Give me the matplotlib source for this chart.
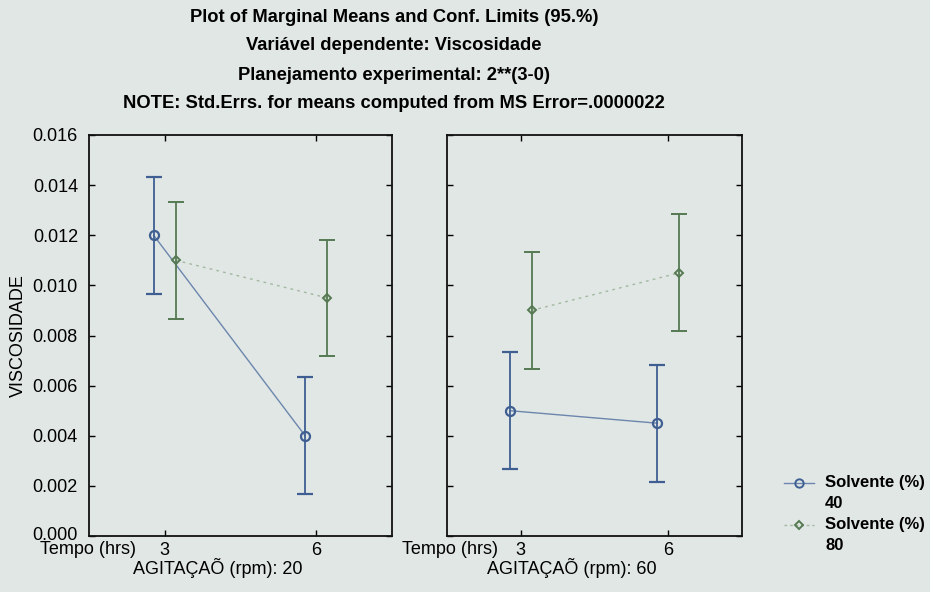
import matplotlib
matplotlib.use("Agg")
import matplotlib.pyplot as plt
import matplotlib.transforms as mtransforms
import numpy as np
from matplotlib.lines import Line2D

# data
TEMPO = [3, 6]
AGITACAO = [20, 60]
SOLVENTE = [40, 80]
# means per agitation level, one list per solvent level
MEANS_40 = [[0.0120, 0.0040], [0.0050, 0.0045]]
MEANS_80 = [[0.0110, 0.0095], [0.0090, 0.0105]]
CI_HALF = 0.00233  # same for every cell (pooled MS error)

TITLE_LINES = [
    "Plot of Marginal Means and Conf. Limits (95.%)",
    "Variável dependente: Viscosidade",
    "Planejamento experimental: 2**(3-0)",
    "NOTE: Std.Errs. for means computed from MS Error=.0000022",
]

BG = "#e1e7e5"
BLUE = "#3f5f92"
BLUE_LINE = "#6c86ad"
GREEN = "#557a52"
GREEN_LINE = "#a3b9a2"
FONT = ["Liberation Sans", "DejaVu Sans"]
OFFSET = 0.22

plt.rcParams["font.family"] = FONT

fig = plt.figure(figsize=(9.3, 5.92), dpi=100, facecolor=BG)
W, H = 930, 592


def px_axes(x0, x1, y_top, y_bot):
    return fig.add_axes([x0 / W, (H - y_bot) / H, (x1 - x0) / W, (y_bot - y_top) / H])


def fy(y):
    return 1 - y / H


axes = [px_axes(89, 392, 135, 536), px_axes(447, 742, 135, 536)]

for i, ax in enumerate(axes):
    ax.set_facecolor(BG)
    x = np.array(TEMPO, dtype=float)
    ax.plot(x + OFFSET, MEANS_80[i], color=GREEN_LINE, lw=1.0,
            linestyle=(0, (2, 3)), zorder=1)
    ax.plot(x - OFFSET, MEANS_40[i], color=BLUE_LINE, lw=1.0, zorder=1)
    ax.errorbar(x - OFFSET, MEANS_40[i], yerr=CI_HALF, fmt="o", color=BLUE,
                mfc="none", mec=BLUE, ms=6.5, mew=1.6, elinewidth=1.3,
                capsize=5.5, capthick=1.3, zorder=3)
    ax.errorbar(x + OFFSET, MEANS_80[i], yerr=CI_HALF, fmt="D", color=GREEN,
                mfc="none", mec=GREEN, ms=4.5, mew=1.4, elinewidth=1.3,
                capsize=5.5, capthick=1.3, zorder=3)

    ax.set_xlim(1.5, 7.5)
    ax.set_ylim(0, 0.016)
    ax.set_xticks(TEMPO)
    ax.set_xticklabels([str(t) for t in TEMPO])
    ax.set_yticks(np.arange(0, 0.0161, 0.002))
    ax.tick_params(direction="in", top=True, right=True, length=4, width=1,
                   labelsize=13, colors="black")
    ax.tick_params(axis="x", pad=4)
    ax.tick_params(axis="y", pad=8)
    for s in ax.spines.values():
        s.set_linewidth(1.3)
        s.set_color("#111111")
    if i == 0:
        ax.set_yticklabels([f"{v:.3f}" for v in np.arange(0, 0.0161, 0.002)])
        ax.set_ylabel("VISCOSIDADE", fontsize=13, labelpad=4)
        # nudge the bottom label up a little so it clears the "Tempo" row
        lab0 = ax.get_yticklabels()[0]
        lab0.set_transform(lab0.get_transform() +
                           mtransforms.ScaledTranslation(0, 3 / 100, fig.dpi_scale_trans))
    else:
        ax.set_yticklabels([])

# "Tempo (hrs)" row and factor labels
for x0 in [40, 402]:
    fig.text(x0 / W, fy(550), "Tempo (hrs)", fontsize=13, va="center", ha="left")
for cx, ag in zip([218, 572], AGITACAO):
    fig.text(cx / W, fy(568), f"AGITAÇAÕ (rpm): {ag}", fontsize=13,
             va="center", ha="center")

# title block
for y, line in zip([18, 46, 75, 103], TITLE_LINES):
    fig.text(394 / W, fy(y), line, fontsize=13.2, fontweight="bold",
             ha="center", va="center")

# legend, laid out by hand: sample on the first line, level value underneath
legend_rows = [
    (483, BLUE_LINE, BLUE, "o", 6.0, "-"),
    (525, GREEN_LINE, GREEN, "D", 4.5, (0, (2, 2))),
]
for (y, lc, mc, mk, ms, ls), s in zip(legend_rows, SOLVENTE):
    fig.add_artist(Line2D([784 / W, 799 / W, 814 / W], [fy(y)] * 3,
                          transform=fig.transFigure, color=lc, lw=1.0,
                          linestyle=ls, marker=mk, markevery=[1], mfc="none",
                          mec=mc, ms=ms, mew=1.4))
    fig.text(825 / W, fy(y), "Solvente (%)", fontsize=12, fontweight="bold",
             va="center", ha="left")
    fig.text(825 / W, fy(y + 20), str(s), fontsize=12, fontweight="bold",
             va="center", ha="left")

fig.savefig("out.png", dpi=100, facecolor=BG)
